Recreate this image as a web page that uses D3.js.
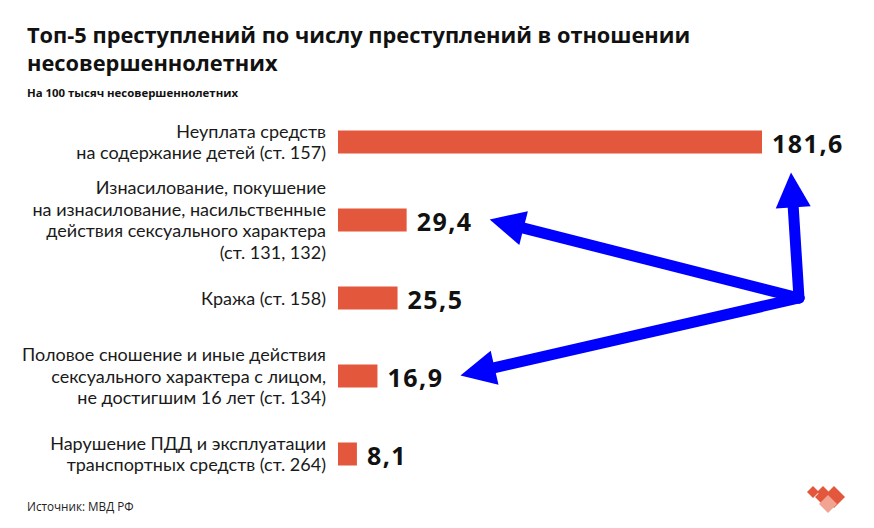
<!DOCTYPE html>
<html><head><meta charset="utf-8">
<script src="https://cdn.jsdelivr.net/npm/d3@7"></script>
<style>
html,body{margin:0;padding:0;background:#fff;}
svg{display:block;}
</style></head>
<body>
<script>
const titleLines = ["Топ-5 преступлений по числу преступлений в отношении", "несовершеннолетних"];
const subtitle = "На 100 тысяч несовершеннолетних";
const source = "Источник: МВД РФ";
const categories = [
  ["Неуплата средств", "на содержание детей (ст. 157)"],
  ["Изнасилование, покушение", "на изнасилование, насильственные", "действия сексуального характера", "(ст. 131, 132)"],
  ["Кража (ст. 158)"],
  ["Половое сношение и иные действия", "сексуального характера с лицом,", "не достигшим 16 лет (ст. 134)"],
  ["Нарушение ПДД и эксплуатации", "транспортных средств (ст. 264)"]
];
const values = [181.6, 29.4, 25.5, 16.9, 8.1];
const valueLabels = ["181,6", "29,4", "25,5", "16,9", "8,1"];
// arrows: from the pivot (level of bar index 2) to these bars' labels
const arrowTargets = [0, 1, 3];

const W = 874, H = 528;
const svg = d3.select("body").append("svg").attr("width", W).attr("height", H);
const FONT = "'Open Sans', sans-serif";
const LFONT = "Lato, sans-serif";

const idx = d3.range(values.length);
const x = d3.scaleLinear().domain([0, d3.max(values)]).range([338, 762]);
const y = d3.scalePoint().domain(idx).range([142, 454]);
const barH = 23;
const barColor = "#e3583c";

// title
svg.append("g").selectAll("text").data(titleLines).join("text")
  .attr("x", 27).attr("y", (d, i) => 43 + i * 28)
  .attr("font-family", FONT).attr("font-weight", 700).attr("font-size", 21.8)
  .attr("fill", "#111").text(d => d);
svg.append("text").attr("x", 27).attr("y", 97)
  .attr("font-family", FONT).attr("font-weight", 700).attr("font-size", 11.4)
  .attr("fill", "#111").text(subtitle);

// bars
svg.append("g").selectAll("rect").data(idx).join("rect")
  .attr("x", x(0)).attr("y", i => y(i) - barH / 2)
  .attr("width", i => x(values[i]) - x(0)).attr("height", barH)
  .attr("fill", barColor);

// category labels
const lh = 21.6;
const lab = svg.append("g").selectAll("text").data(idx).join("text")
  .attr("font-family", LFONT).attr("font-size", 18).attr("fill", "#1a1a1a")
  .attr("text-anchor", "end");
lab.each(function(i) {
  const lines = categories[i];
  d3.select(this).selectAll("tspan").data(lines).join("tspan")
    .attr("x", 326)
    .attr("y", (d, k) => y(i) + (k - (lines.length - 1) / 2) * lh + 6.5)
    .text(d => d);
});

// value labels
const vl = svg.append("g").selectAll("text").data(idx).join("text")
  .attr("x", i => x(values[i]) + 10).attr("y", i => y(i) + 10.5)
  .attr("font-family", FONT).attr("font-weight", 700).attr("font-size", 25)
  .attr("letter-spacing", 1.5)
  .attr("fill", "#111").text(i => valueLabels[i]);

// arrows
const blue = "#0000ff";
const ends = {};
vl.each(function(i) { ends[i] = this.getBBox(); });
const pivot = [x(values[0]) + 37, y(2)];
const tips = arrowTargets.map(i => {
  if (i === 0) return [x(values[0]) + 29, y(0) + barH / 2 + 19];
  const b = ends[i];
  return [b.x + b.width + 17, y(i) - 0.5];
});
const headLen = 35, headHalf = 17.5;
const ag = svg.append("g");
tips.forEach(t => {
  const dx = t[0] - pivot[0], dy = t[1] - pivot[1];
  const L = Math.hypot(dx, dy), ux = dx / L, uy = dy / L;
  const bx = t[0] - ux * headLen, by = t[1] - uy * headLen;
  ag.append("path")
    .attr("d", d3.line()([pivot, [bx + ux * 2, by + uy * 2]]))
    .attr("stroke", blue).attr("stroke-width", 11)
    .attr("stroke-linecap", "round").attr("fill", "none");
  ag.append("path")
    .attr("d", d3.line()([t, [bx - uy * headHalf, by + ux * headHalf], [bx + uy * headHalf, by - ux * headHalf]]) + "Z")
    .attr("fill", blue);
});

// source
svg.append("text").attr("x", 27).attr("y", 511)
  .attr("font-family", FONT).attr("font-size", 11.7).attr("fill", "#222").text(source);

// logo
const logo = svg.append("g");
const dia = (cx, cy, r) => `M${cx},${cy - r}L${cx + r},${cy}L${cx},${cy + r}L${cx - r},${cy}Z`;
logo.append("path").attr("d", dia(834, 497, 11)).attr("fill", "#e3583c");
logo.append("path").attr("d", dia(813, 492, 6)).attr("fill", "#e3583c");
logo.append("path").attr("d", dia(823, 492, 6)).attr("fill", "#e3583c");
logo.append("path").attr("d", dia(821, 497, 6)).attr("fill", "#e3583c");
logo.append("path").attr("d", dia(828, 504, 9)).attr("fill", "#f2a493");
</script>
</body></html>
